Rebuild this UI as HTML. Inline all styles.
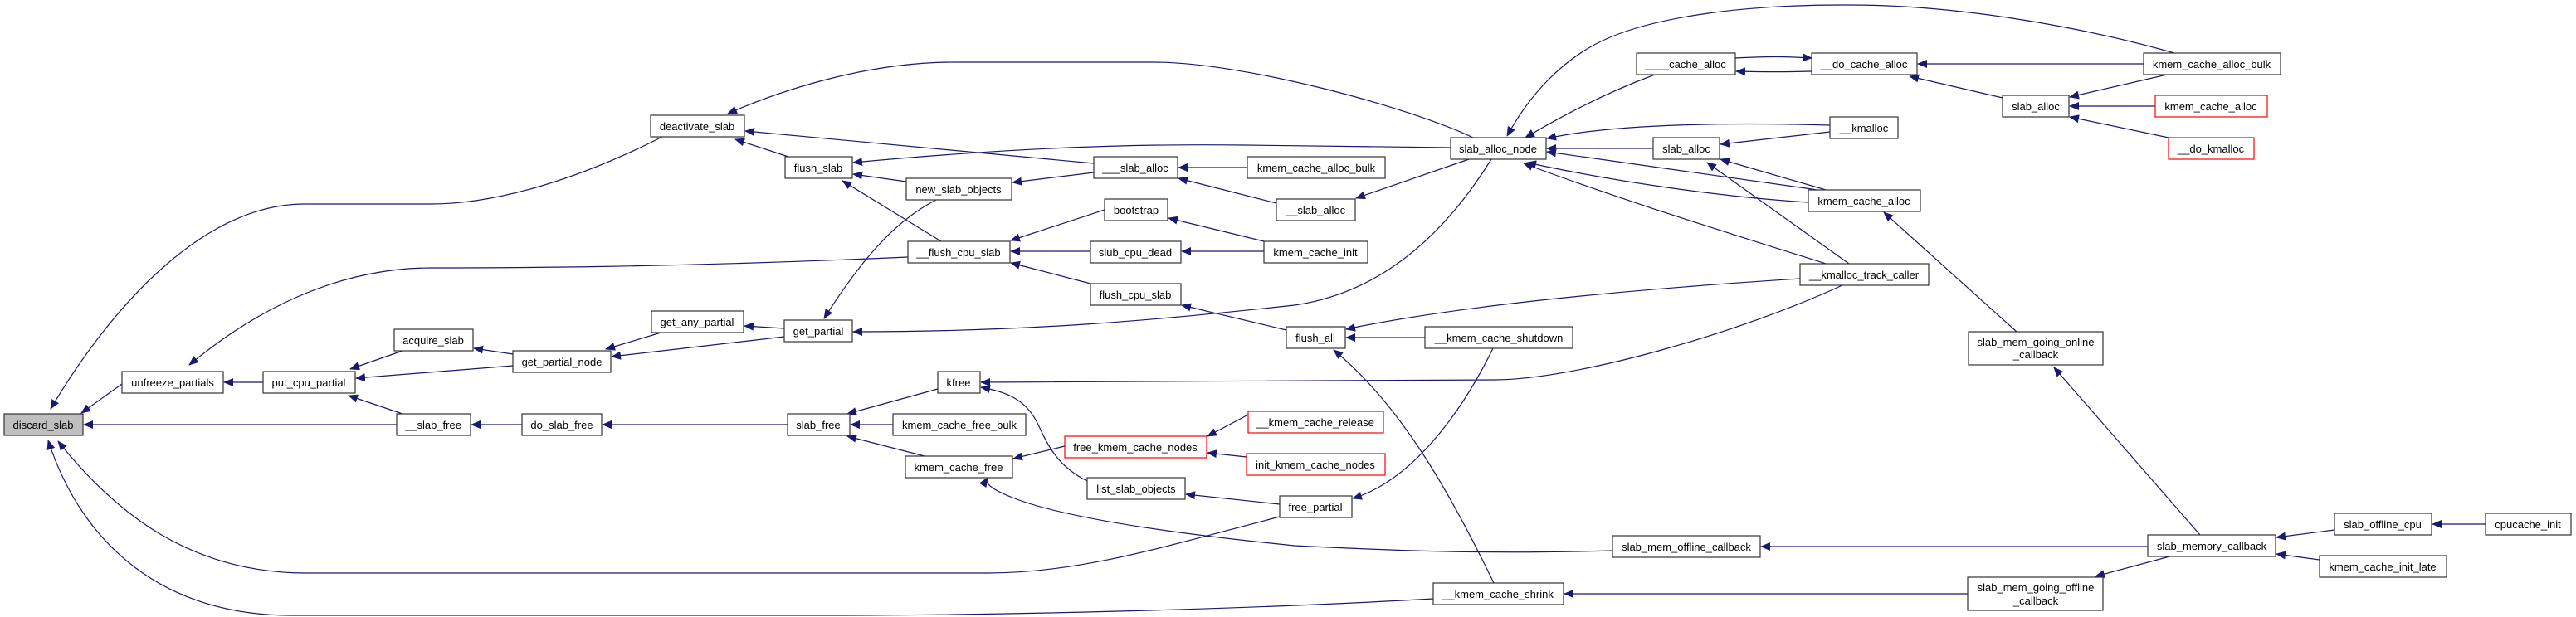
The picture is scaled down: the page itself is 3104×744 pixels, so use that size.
<!DOCTYPE html>
<html><head><meta charset="utf-8"><style>
html,body{margin:0;padding:0;background:#fff;}
svg{display:block;}
text{font-family:"Liberation Sans",sans-serif;font-size:13px;fill:#000;}
.e{fill:none;stroke:#191970;stroke-width:1.2;marker-end:url(#a);}
.n{fill:#fff;stroke:#333;stroke-width:1.2;}
.r{fill:#fff;stroke:#ff0000;stroke-width:1.2;}
</style></head><body>
<svg width="3104" height="744" viewBox="0 0 3104 744" xmlns="http://www.w3.org/2000/svg">
<defs><marker id="a" markerUnits="userSpaceOnUse" markerWidth="12" markerHeight="10" refX="11" refY="5" orient="auto"><path d="M0,0 L12,5 L0,10 z" fill="#191970"/></marker></defs>
<g>
<path class="e" d="M168,448 L98,498"/>
<path class="e" d="M478,512 L101,512"/>
<path class="e" d="M800,164 C700,215 600,246 520,246 L367,246 C250,246 140,360 61,493"/>
<path class="e" d="M1094,310 C800,323 600,323 520,323 C400,323 300,380 228,440"/>
<path class="e" d="M1542,623 C1400,660 1300,691 1190,691 L370,691 C230,691 140,620 70,532"/>
<path class="e" d="M1727,722 C1500,735 1200,742 1000,742 L350,742 C200,742 100,660 58,531"/>
<path class="e" d="M317,461 L270,461"/>
<path class="e" d="M485,423 L422,445"/>
<path class="e" d="M618,441 L429,456"/>
<path class="e" d="M485,499 L420,477"/>
<path class="e" d="M618,427 L571,420"/>
<path class="e" d="M800,400 L730,421"/>
<path class="e" d="M945,406 L737,430"/>
<path class="e" d="M629,512 L568,512"/>
<path class="e" d="M949,512 L726,512"/>
<path class="e" d="M945,396 L897,393"/>
<path class="e" d="M1775,166 C1700,130 1500,75 1390,75 L1150,75 C1050,75 950,105 877,137"/>
<path class="e" d="M1318,197 L898,158"/>
<path class="e" d="M950,189 L886,168"/>
<path class="e" d="M1748,178 L1500,175 C1350,173 1200,180 1028,196"/>
<path class="e" d="M1092,219 L1028,210"/>
<path class="e" d="M1134,291 L1015,218"/>
<path class="e" d="M1318,208 L1220,220"/>
<path class="e" d="M1130,240 C1080,265 1040,310 993,384"/>
<path class="e" d="M1503,202 L1420,202"/>
<path class="e" d="M1538,245 L1420,215"/>
<path class="e" d="M1331,253 L1218,290"/>
<path class="e" d="M1314,303 L1218,303"/>
<path class="e" d="M1314,342 L1218,317"/>
<path class="e" d="M1523,291 L1408,263"/>
<path class="e" d="M1523,303 L1424,303"/>
<path class="e" d="M1550,398 L1424,368"/>
<path class="e" d="M1797,192 C1730,300 1650,355 1560,368 C1400,385 1250,400 1028,400"/>
<path class="e" d="M1770,192 L1634,239"/>
<path class="e" d="M1994,90 C1940,110 1890,135 1838,166"/>
<path class="e" d="M2091,70 C2130,68 2150,68 2183,70"/>
<path class="e" d="M2183,86 C2150,87 2130,87 2092,86"/>
<path class="e" d="M2620,64 C2500,30 2350,5 2220,6 C2100,6 2000,20 1940,45 C1880,70 1840,120 1816,164"/>
<path class="e" d="M2583,77 L2311,77"/>
<path class="e" d="M2413,118 L2301,92"/>
<path class="e" d="M2611,90 L2494,117"/>
<path class="e" d="M2597,128 L2494,128"/>
<path class="e" d="M2613,166 L2494,141"/>
<path class="e" d="M2205,151 C2100,148 1950,148 1864,167"/>
<path class="e" d="M2205,159 L2073,174"/>
<path class="e" d="M1992,179 L1864,179"/>
<path class="e" d="M2190,229 L1864,183"/>
<path class="e" d="M2179,244 C2080,238 1950,220 1840,196"/>
<path class="e" d="M2200,229 L2073,192"/>
<path class="e" d="M2200,318 C2080,280 1950,240 1836,197"/>
<path class="e" d="M2228,318 L2057,196"/>
<path class="e" d="M2169,336 C1950,350 1750,370 1622,397"/>
<path class="e" d="M2222,343 C2100,400 1900,458 1800,458 L1182,461"/>
<path class="e" d="M1717,407 L1622,407"/>
<path class="e" d="M1800,703 C1750,600 1690,490 1607,422"/>
<path class="e" d="M1799,420 C1760,500 1700,580 1630,601"/>
<path class="e" d="M2430,400 L2270,256"/>
<path class="e" d="M2651,645 L2475,443"/>
<path class="e" d="M2588,659 L2122,659"/>
<path class="e" d="M2618,670 L2525,695"/>
<path class="e" d="M2813,639 L2743,648"/>
<path class="e" d="M2795,675 L2743,668"/>
<path class="e" d="M2995,632 L2931,632"/>
<path class="e" d="M2371,716 L1885,716"/>
<path class="e" d="M1943,664 C1800,668 1700,665 1560,658 C1380,640 1270,620 1220,600 C1200,592 1185,584 1190,576"/>
<path class="e" d="M1114,550 L1021,526"/>
<path class="e" d="M1076,512 L1025,512"/>
<path class="e" d="M1130,469 L1021,499"/>
<path class="e" d="M1283,538 L1221,553"/>
<path class="e" d="M1504,500 L1455,526"/>
<path class="e" d="M1502,551 L1455,546"/>
<path class="e" d="M1310,580 C1270,560 1260,530 1250,510 C1235,480 1210,472 1182,467"/>
<path class="e" d="M1542,608 L1429,596"/>
</g>
<g>
<rect x="5" y="499" width="95" height="26" fill="#bfbfbf" stroke="#333" stroke-width="1.2"/><text x="52" y="517" text-anchor="middle">discard_slab</text>
<rect class="n" x="147" y="448" width="122" height="26"/><text x="208" y="466" text-anchor="middle">unfreeze_partials</text>
<rect class="n" x="317" y="448" width="111" height="26"/><text x="372" y="466" text-anchor="middle">put_cpu_partial</text>
<rect class="n" x="475" y="397" width="95" height="26"/><text x="522" y="415" text-anchor="middle">acquire_slab</text>
<rect class="n" x="618" y="423" width="118" height="26"/><text x="677" y="441" text-anchor="middle">get_partial_node</text>
<rect class="n" x="478" y="499" width="89" height="26"/><text x="522" y="517" text-anchor="middle">__slab_free</text>
<rect class="n" x="629" y="499" width="96" height="26"/><text x="677" y="517" text-anchor="middle">do_slab_free</text>
<rect class="n" x="784" y="139" width="113" height="26"/><text x="840" y="157" text-anchor="middle">deactivate_slab</text>
<rect class="n" x="946" y="189" width="81" height="26"/><text x="986" y="207" text-anchor="middle">flush_slab</text>
<rect class="n" x="1092" y="215" width="127" height="26"/><text x="1155" y="233" text-anchor="middle">new_slab_objects</text>
<rect class="n" x="1318" y="189" width="101" height="26"/><text x="1368" y="207" text-anchor="middle">___slab_alloc</text>
<rect class="n" x="1503" y="189" width="166" height="26"/><text x="1586" y="207" text-anchor="middle">kmem_cache_alloc_bulk</text>
<rect class="n" x="1538" y="240" width="95" height="26"/><text x="1585" y="258" text-anchor="middle">__slab_alloc</text>
<rect class="n" x="1331" y="240" width="76" height="26"/><text x="1369" y="258" text-anchor="middle">bootstrap</text>
<rect class="n" x="1094" y="291" width="123" height="26"/><text x="1155" y="309" text-anchor="middle">__flush_cpu_slab</text>
<rect class="n" x="1314" y="291" width="109" height="26"/><text x="1368" y="309" text-anchor="middle">slub_cpu_dead</text>
<rect class="n" x="1523" y="291" width="125" height="26"/><text x="1585" y="309" text-anchor="middle">kmem_cache_init</text>
<rect class="n" x="1314" y="342" width="109" height="26"/><text x="1368" y="360" text-anchor="middle">flush_cpu_slab</text>
<rect class="n" x="1550" y="394" width="71" height="26"/><text x="1585" y="412" text-anchor="middle">flush_all</text>
<rect class="n" x="785" y="375" width="111" height="26"/><text x="840" y="393" text-anchor="middle">get_any_partial</text>
<rect class="n" x="945" y="386" width="82" height="26"/><text x="986" y="404" text-anchor="middle">get_partial</text>
<rect class="n" x="1130" y="448" width="51" height="26"/><text x="1155" y="466" text-anchor="middle">kfree</text>
<rect class="n" x="949" y="499" width="75" height="26"/><text x="986" y="517" text-anchor="middle">slab_free</text>
<rect class="n" x="1076" y="499" width="160" height="26"/><text x="1156" y="517" text-anchor="middle">kmem_cache_free_bulk</text>
<rect class="n" x="1091" y="550" width="129" height="26"/><text x="1155" y="568" text-anchor="middle">kmem_cache_free</text>
<rect class="r" x="1283" y="526" width="171" height="26"/><text x="1368" y="544" text-anchor="middle">free_kmem_cache_nodes</text>
<rect class="r" x="1504" y="496" width="163" height="26"/><text x="1585" y="514" text-anchor="middle">__kmem_cache_release</text>
<rect class="r" x="1502" y="547" width="167" height="26"/><text x="1585" y="565" text-anchor="middle">init_kmem_cache_nodes</text>
<rect class="n" x="1310" y="576" width="118" height="26"/><text x="1369" y="594" text-anchor="middle">list_slab_objects</text>
<rect class="n" x="1542" y="598" width="87" height="26"/><text x="1585" y="616" text-anchor="middle">free_partial</text>
<rect class="n" x="1748" y="166" width="115" height="26"/><text x="1805" y="184" text-anchor="middle">slab_alloc_node</text>
<rect class="n" x="1972" y="64" width="119" height="26"/><text x="2031" y="82" text-anchor="middle">____cache_alloc</text>
<rect class="n" x="2183" y="64" width="127" height="26"/><text x="2246" y="82" text-anchor="middle">__do_cache_alloc</text>
<rect class="n" x="2205" y="141" width="82" height="26"/><text x="2246" y="159" text-anchor="middle">__kmalloc</text>
<rect class="n" x="1992" y="166" width="80" height="26"/><text x="2032" y="184" text-anchor="middle">slab_alloc</text>
<rect class="n" x="2179" y="229" width="135" height="26"/><text x="2246" y="247" text-anchor="middle">kmem_cache_alloc</text>
<rect class="n" x="2169" y="318" width="155" height="26"/><text x="2246" y="336" text-anchor="middle">__kmalloc_track_caller</text>
<rect class="n" x="1717" y="394" width="178" height="26"/><text x="1806" y="412" text-anchor="middle">__kmem_cache_shutdown</text>
<rect class="n" x="1943" y="646" width="178" height="26"/><text x="2032" y="664" text-anchor="middle">slab_mem_offline_callback</text>
<rect class="n" x="1727" y="703" width="157" height="26"/><text x="1805" y="721" text-anchor="middle">__kmem_cache_shrink</text>
<rect class="n" x="2583" y="64" width="165" height="26"/><text x="2665" y="82" text-anchor="middle">kmem_cache_alloc_bulk</text>
<rect class="n" x="2413" y="115" width="80" height="26"/><text x="2453" y="133" text-anchor="middle">slab_alloc</text>
<rect class="r" x="2597" y="115" width="135" height="26"/><text x="2664" y="133" text-anchor="middle">kmem_cache_alloc</text>
<rect class="r" x="2613" y="166" width="103" height="26"/><text x="2664" y="184" text-anchor="middle">__do_kmalloc</text>
<rect class="n" x="2372" y="400" width="162" height="40"/><text x="2453" y="417" text-anchor="middle">slab_mem_going_online</text><text x="2453" y="432" text-anchor="middle">_callback</text>
<rect class="n" x="2588" y="645" width="154" height="26"/><text x="2665" y="663" text-anchor="middle">slab_memory_callback</text>
<rect class="n" x="2813" y="619" width="117" height="26"/><text x="2871" y="637" text-anchor="middle">slab_offline_cpu</text>
<rect class="n" x="2995" y="619" width="103" height="26"/><text x="3046" y="637" text-anchor="middle">cpucache_init</text>
<rect class="n" x="2795" y="670" width="153" height="26"/><text x="2871" y="688" text-anchor="middle">kmem_cache_init_late</text>
<rect class="n" x="2371" y="696" width="163" height="40"/><text x="2453" y="713" text-anchor="middle">slab_mem_going_offline</text><text x="2453" y="729" text-anchor="middle">_callback</text>
</g>
</svg>
</body></html>
